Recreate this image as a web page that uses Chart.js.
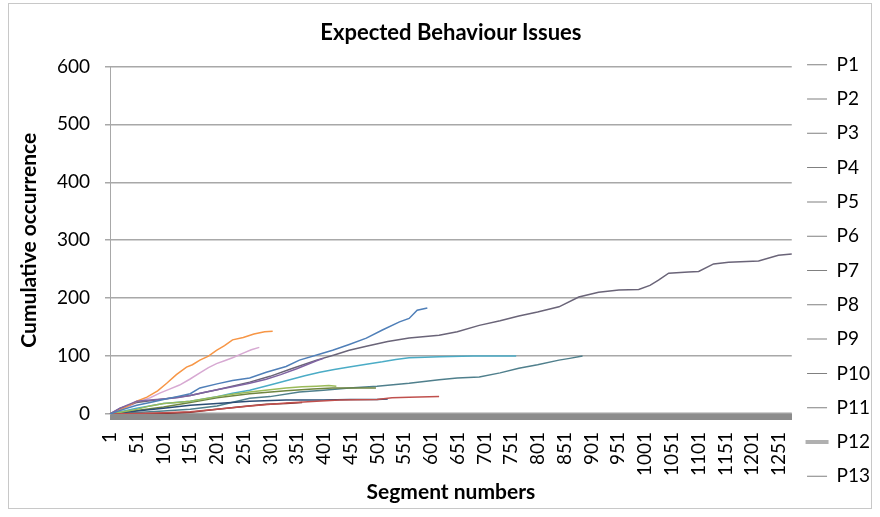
<!DOCTYPE html>
<html>
<head>
<meta charset="utf-8">
<script src="https://cdn.jsdelivr.net/npm/chart.js@4/dist/chart.umd.min.js"></script>
<style>
  body { margin: 0; background: #fff; }
  #wrap { position: relative; width: 880px; height: 517px; }
  #frame { position: absolute; left: 8px; top: 3px; width: 862px; height: 504px; border: 1px solid #c8c8c8; pointer-events: none; }
</style>
</head>
<body>
<div id="wrap">
  <canvas id="chart" width="880" height="517"></canvas>
  <div id="frame"></div>
</div>
<script>
// segment axis runs 1..1275, labelled every 50
const segmentCount = 1275;
const labelStep = 50;
const yTicks = [0, 100, 200, 300, 400, 500, 600];

// series: segment numbers and cumulative counts
const p1Seg = [1, 26, 51, 76, 101, 126, 151, 169, 201, 230, 262, 293, 330, 355, 392, 417, 448, 480, 510, 542, 560, 575, 594];
const p1Val = [0, 8, 15, 20, 25, 30, 35, 45, 52, 58, 62, 72, 82, 93, 103, 110, 120, 131, 145, 159, 165, 179, 183];

const p2Seg = [1, 51, 101, 151, 201, 262, 330, 387, 430, 500, 528, 560, 616];
const p2Val = [0, 1, 2, 4, 8, 14, 19, 22, 24, 25, 28, 29, 30];

const p3Seg = [1, 26, 51, 76, 101, 126, 151, 176, 201, 230, 262, 300, 330, 360, 387, 410, 424];
const p3Val = [0, 4, 8, 14, 18, 20, 22, 26, 30, 34, 38, 42, 45, 47, 48, 49, 48];

const p4Seg = [1, 20, 40, 51, 76, 101, 126, 151, 176, 201, 230, 262, 293, 320, 350, 387, 400];
const p4Val = [0, 10, 18, 22, 24, 26, 28, 32, 37, 42, 47, 53, 60, 68, 78, 92, 96];

const p5Seg = [1, 51, 101, 151, 201, 230, 262, 300, 337, 365, 393, 420, 448, 480, 510, 535, 560, 590, 616, 680, 741, 760];
const p5Val = [0, 10, 18, 22, 30, 36, 41, 50, 59, 66, 72, 77, 81, 86, 90, 94, 97, 98, 99, 100, 100, 100];

const p6Seg = [1, 26, 51, 70, 90, 107, 125, 144, 155, 169, 185, 200, 215, 230, 250, 270, 290, 305];
const p6Val = [0, 10, 22, 29, 40, 53, 68, 81, 85, 93, 100, 110, 118, 128, 132, 138, 142, 143];

const p7Seg = [1, 51, 101, 151, 201, 262, 330, 400, 450, 500, 520];
const p7Val = [0, 5, 10, 15, 18, 22, 24, 24, 25, 25, 26];

const p8Seg = [1, 101, 151, 201, 250, 293, 330, 360];
const p8Val = [0, 1, 3, 8, 13, 17, 18, 20];

const p9Seg = [1, 51, 101, 151, 201, 262, 330, 380, 417, 460, 498];
const p9Val = [0, 6, 12, 20, 28, 35, 40, 43, 45, 45, 45];

const p10Seg = [1, 20, 51, 101, 151, 201, 262, 300, 340, 387, 420, 448, 480, 520, 560, 616, 650, 691, 730, 765, 800, 840, 877, 914, 952, 989, 1010, 1026, 1045, 1082, 1101, 1129, 1157, 1213, 1250, 1275];
const p10Val = [0, 10, 20, 26, 32, 42, 55, 65, 78, 93, 102, 110, 117, 125, 131, 136, 142, 153, 161, 169, 176, 185, 202, 210, 214, 215, 222, 231, 243, 245, 246, 259, 262, 264, 274, 276];

const p11Seg = [1, 101, 151, 201, 262, 300, 355, 400, 448, 500, 560, 616, 650, 691, 730, 765, 800, 840, 860, 884];
const p11Val = [0, 5, 8, 14, 27, 30, 38, 41, 45, 48, 53, 59, 62, 64, 71, 79, 85, 93, 96, 100];

const p12Seg = [1, 1275];
const p12Val = [0, 0];

const p13Seg = [1, 26, 51, 76, 94, 110, 131, 150, 169, 185, 200, 215, 230, 250, 265, 280];
const p13Val = [0, 8, 20, 28, 36, 42, 50, 60, 71, 80, 87, 92, 97, 105, 111, 115];

const seriesNames = ['P1', 'P2', 'P3', 'P4', 'P5', 'P6', 'P7', 'P8', 'P9', 'P10', 'P11', 'P12', 'P13'];
const seriesSegs = [p1Seg, p2Seg, p3Seg, p4Seg, p5Seg, p6Seg, p7Seg, p8Seg, p9Seg, p10Seg, p11Seg, p12Seg, p13Seg];
const seriesVals = [p1Val, p2Val, p3Val, p4Val, p5Val, p6Val, p7Val, p8Val, p9Val, p10Val, p11Val, p12Val, p13Val];
const seriesColors = ['#4f7fb8', '#c0504d', '#9bbb59', '#8064a2', '#4bacc6', '#f79646', '#2c4d75', '#772c2a', '#6f8540', '#6a6478', '#4f7f8c', '#a0a0a0', '#d7a9d2'];

const segments = [];
for (let i = 1; i <= segmentCount; i++) segments.push(i);

const font = { family: 'Lato', size: 19 };
const boldFont = { family: 'Lato', size: 21, weight: 'bold' };

const datasets = seriesNames.map((name, i) => ({
    label: name,
    data: seriesSegs[i].map((s, j) => ({ x: s, y: seriesVals[i][j] })),
    borderColor: seriesColors[i],
    borderWidth: name === 'P12' ? 3 : 1.5,
    pointRadius: 0,
    tension: 0,
    fill: false
}));

const ctx = document.getElementById('chart').getContext('2d');
new Chart(ctx, {
    type: 'line',
    data: { labels: segments, datasets: datasets },
    options: {
        responsive: false,
        animation: false,
        layout: { padding: { left: 8, right: 0, top: 8, bottom: 8 } },
        plugins: {
            title: {
                display: true,
                fullSize: false,
                text: 'Expected Behaviour Issues',
                color: '#000',
                font: { family: 'Lato', size: 22, weight: 'bold' },
                padding: { top: 12, bottom: 20 }
            },
            legend: {
                position: 'right',
                title: { display: true, text: ' ', font: { size: 10 }, padding: { top: 6, bottom: 6 } },
                labels: {
                    color: '#000',
                    font: font,
                    boxWidth: 20,
                    boxHeight: 1,
                    padding: 15.3,
                    generateLabels(chart) {
                        return chart.data.datasets.map((ds, i) => ({
                            text: ds.label,
                            fillStyle: ds.label === 'P12' ? '#b0b0b0' : '#808080',
                            strokeStyle: ds.label === 'P12' ? '#b0b0b0' : '#808080',
                            lineWidth: ds.label === 'P12' ? 3 : 0,
                            fontColor: '#000',
                            hidden: false,
                            datasetIndex: i
                        }));
                    }
                }
            },
            tooltip: { enabled: false }
        },
        scales: {
            x: {
                type: 'category',
                offset: false,
                afterFit(scale) { scale.height = 95; },
                grid: { drawOnChartArea: false, drawTicks: true, tickLength: 6, color: '#8c8c8c' },
                border: { color: '#8c8c8c' },
                ticks: {
                    autoSkip: false,
                    minRotation: 90,
                    maxRotation: 90,
                    padding: 12,
                    color: '#000',
                    font: font,
                    callback(value, index) {
                        return index % labelStep === 0 ? String(segments[index]) : '';
                    }
                },
                title: {
                    display: true,
                    text: 'Segment numbers',
                    color: '#000',
                    font: boldFont,
                    padding: { top: 8, bottom: 4 }
                }
            },
            y: {
                min: yTicks[0],
                max: yTicks[yTicks.length - 1],
                afterFit(scale) { scale.width = 102; },
                afterBuildTicks(scale) { scale.ticks = yTicks.map(v => ({ value: v })); },
                grid: { color: '#a8a8a8', lineWidth: 1.5, tickLength: 5 },
                border: { color: '#a8a8a8' },
                ticks: { padding: 15, color: '#000', font: font },
                title: {
                    display: true,
                    text: 'Cumulative occurrence',
                    color: '#000',
                    font: boldFont,
                    padding: { top: 9, bottom: 2 }
                }
            }
        }
    }
});
</script>
</body>
</html>
